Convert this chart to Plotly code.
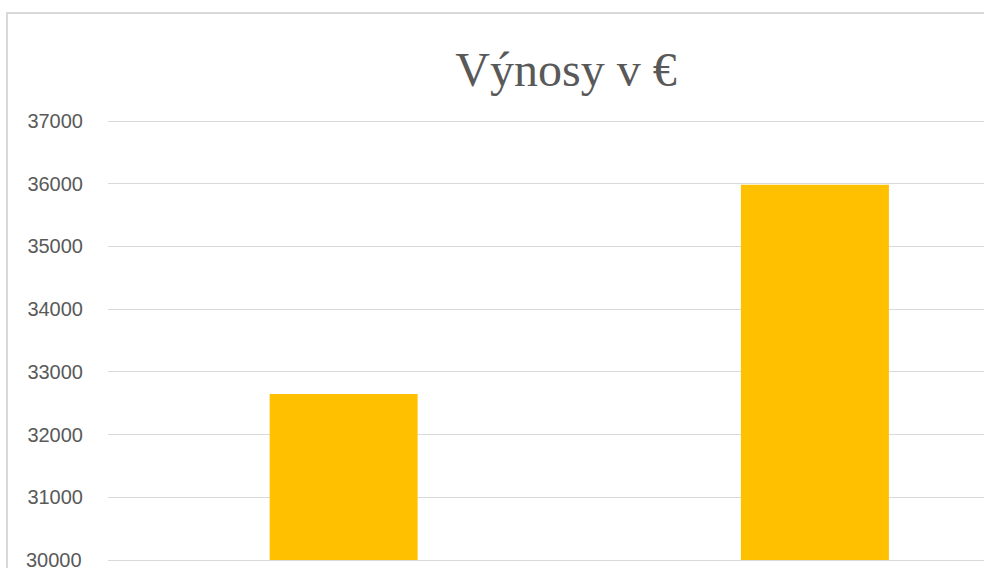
import plotly.graph_objects as go

categories = ["Rok 1", "Rok 2"]
values = [32648, 35985]
y_ticks = [30000, 31000, 32000, 33000, 34000, 35000, 36000, 37000]
title_text = "Výnosy v €"

W, H = 984, 568
ml, mr, mt, mb = 108, 0, 121, 8
pw = W - ml - mr
ph = H - mt - mb
y0, y1 = 30000, 37000
scale = ph / (y1 - y0 + 0.0)
# extend slightly so the top gridline is drawn
y1e = y1 + 2 / scale
mt2 = mt - 2

def px_x(p):
    return (p - ml) / pw

def px_y(p):
    return (H - mb - p) / (H - mb - mt2)

tick_font = dict(family="Liberation Sans", size=20, color="#595959")

fig = go.Figure()
fig.add_trace(go.Bar(
    x=categories, y=values, width=0.314,
    marker=dict(color="#FFC000", line=dict(width=0)),
    hoverinfo="x+y",
))

fig.update_layout(
    width=W, height=H,
    margin=dict(l=ml, r=mr, t=mt2, b=mb, pad=0),
    paper_bgcolor="white", plot_bgcolor="white",
    showlegend=False,
    title=dict(text=title_text, x=566 / W, xanchor="center", xref="container",
               y=1 - 69 / H, yanchor="middle",
               font=dict(family="Liberation Serif", size=48, color="#595959")),
    xaxis=dict(type="category", range=[-0.5, (W - 344) / 471.0],
               showticklabels=False, showgrid=False, zeroline=False,
               showline=True, linecolor="#d9d9d9", linewidth=1, ticks=""),
    yaxis=dict(range=[y0, y1e], tickvals=y_ticks,
               ticktext=[str(v) for v in y_ticks],
               showgrid=True, gridcolor="#d9d9d9", gridwidth=1,
               zeroline=False, showline=False, ticks="",
               ticklabelstandoff=24,
               tickfont=tick_font),
    shapes=[dict(type="path", xref="paper", yref="paper",
                 path=f"M {px_x(7)} {px_y(600)} L {px_x(7)} {px_y(13)} L {px_x(1100)} {px_y(13)}",
                 line=dict(color="#d9d9d9", width=2))],
)

# bottom tick label (clipped at the figure edge, as in the reference)
fig.add_annotation(x=0, xref="paper", xanchor="right", xshift=-24,
                   y=y_ticks[0], yref="y", yanchor="middle",
                   text=str(y_ticks[0]), showarrow=False, font=tick_font)

fig.write_html("out.html",
               config={"displayModeBar": False},
               post_script="document.body.style.margin='0';document.body.style.overflow='hidden';")
